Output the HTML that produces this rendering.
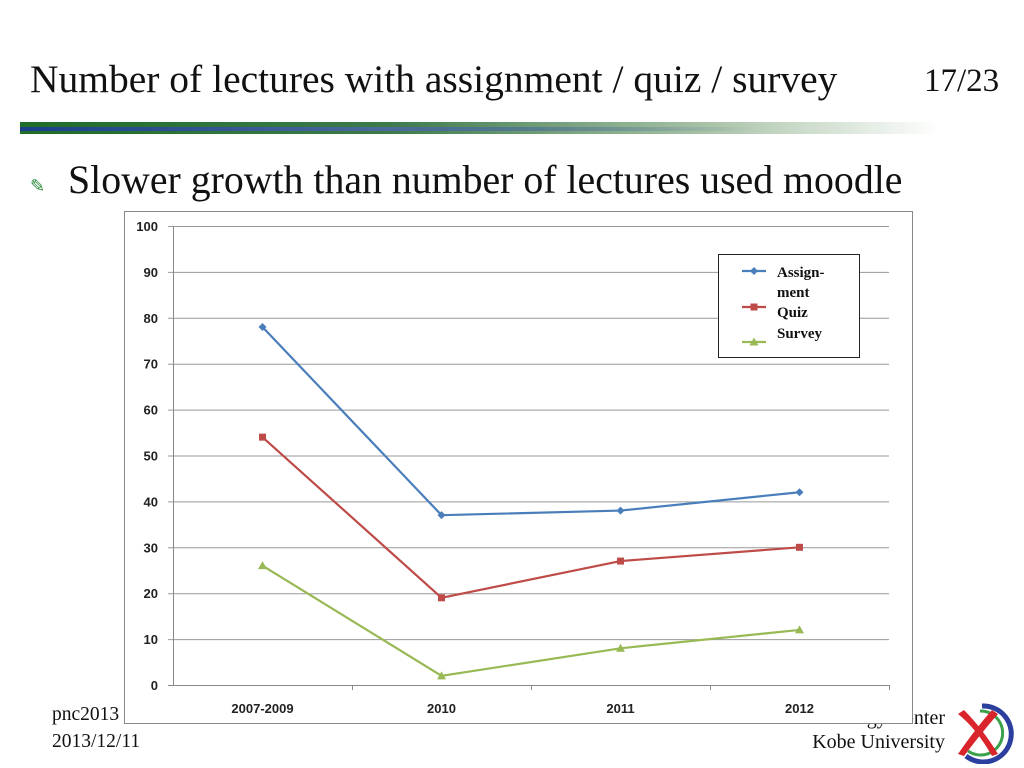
<!DOCTYPE html>
<html><head><meta charset="utf-8"><style>
body{margin:0;width:1024px;height:768px;background:#fff;position:relative;overflow:hidden;font-family:"Liberation Serif",serif}
.t{position:absolute;white-space:nowrap}
</style></head><body>
<div class="t" style="left:30px;top:56px;font-size:39.5px;color:#111">Number of lectures with assignment / quiz / survey</div>
<div class="t" style="left:924px;top:63px;font-size:33px;color:#111">17/23</div>
<div class="t" style="left:20px;top:122px;width:920px;height:12px;background:linear-gradient(90deg,#1f6d2a 0%,#3c7a4c 40%,#a9c3a8 75%,#fff 100%)"></div>
<div class="t" style="left:20px;top:127px;width:920px;height:4px;background:linear-gradient(90deg,#1a3d8a 0%,#4a6a9a 40%,rgba(255,255,255,0) 80%)"></div>
<div class="t" style="left:30px;top:176px;font-size:18px;color:#2a8a3a">✎</div>
<div class="t" style="left:68px;top:157px;font-size:39.8px;color:#111">Slower growth than number of lectures used moodle</div>
<div class="t" style="left:52px;top:704px;font-size:19.5px;color:#111">pnc2013</div>
<div class="t" style="left:52px;top:731px;font-size:19.5px;color:#111">2013/12/11</div>
<div class="t" style="left:545px;top:707px;font-size:20px;color:#111;width:400px;text-align:right">Information Science and Technology Center</div>
<div class="t" style="left:700px;top:731px;font-size:20px;color:#111;width:245px;text-align:right">Kobe University</div>
<svg class="t" style="left:952px;top:702px" width="64" height="62">
<path d="M30 4 A28 28 0 1 1 14 54" fill="none" stroke="#2c3e9e" stroke-width="5"/>
<path d="M28 9 A22 22 0 1 1 16 49" fill="none" stroke="#3aa04a" stroke-width="3"/>
<path d="M6 12 Q24 26 40 54 L46 52 Q30 26 12 8Z" fill="#d8242a"/>
<path d="M40 8 Q24 26 6 52 L12 54 Q30 30 46 12Z" fill="#d8242a"/>
</svg>
<svg class="t" id="chart" style="left:0;top:0" width="1024" height="768"></svg>
<script>
const categories=["2007-2009","2010","2011","2012"];
const assignment=[78,37,38,42];
const quiz=[54,19,27,30];
const survey=[26,2,8,12];
const yTicks=[0,10,20,30,40,50,60,70,80,90,100];
const NS="http://www.w3.org/2000/svg";
const svg=document.getElementById('chart');
function mk(t,a,p){const e=document.createElementNS(NS,t);for(const k in a)e.setAttribute(k,a[k]);(p||svg).appendChild(e);return e;}
const X0=173,X1=889,Y0=685,Y1=226;
const band=(X1-X0)/categories.length;
const x=i=>X0+band*(i+0.5);
const y=v=>Y0-(v/100)*(Y0-Y1);
const frame=mk('rect',{x:124.5,y:211.5,width:788,height:512,fill:'#fff',stroke:'#888'});


yTicks.forEach(v=>{
 const g=mk('line',{x1:X0-5,x2:X1,y1:y(v)+.5,y2:y(v)+.5,stroke:v===0?'#888':'#999'});
 
 
 const t=mk('text',{x:158,y:y(v)+5,'text-anchor':'end','font-family':'Liberation Sans,sans-serif','font-size':13,'font-weight':'bold',fill:'#222'});
 t.textContent=v;
 
 
});
mk('line',{x1:X0+.5,x2:X0+.5,y1:Y1,y2:Y0,stroke:'#888'});
categories.forEach((c,i)=>{
 mk('line',{x1:X0+band*(i+1)+.5,x2:X0+band*(i+1)+.5,y1:Y0,y2:Y0+5,stroke:'#888'});
 const t=mk('text',{x:x(i),y:713,'text-anchor':'middle','font-family':'Liberation Sans,sans-serif','font-size':13,'font-weight':'bold',fill:'#222'});
 t.textContent=c;
 
 
});
function marker(shape,cx,cy,col,p){
 if(shape==='d')return mk('path',{d:`M${cx} ${cy-4}L${cx+4} ${cy}L${cx} ${cy+4}L${cx-4} ${cy}Z`,fill:col},p);
 if(shape==='s')return mk('rect',{x:cx-3.5,y:cy-3.5,width:7,height:7,fill:col},p);
 return mk('path',{d:`M${cx} ${cy-4.5}L${cx+4.5} ${cy+3.5}L${cx-4.5} ${cy+3.5}Z`,fill:col},p);
}
const series=[[assignment,'#4a7ebb','d','series-assignment'],[quiz,'#be4b48','s','series-quiz'],[survey,'#98b954','t','series-survey']];
series.forEach(([d,col,sh,nm])=>{
 const g=mk('g',{});
 
 
 mk('polyline',{points:d.map((v,i)=>x(i)+','+y(v)).join(' '),fill:'none',stroke:col,'stroke-width':2.2},g);
 d.forEach((v,i)=>{const m=marker(sh,x(i),y(v),col,g);
  
  });
});
const lg=mk('g',{});


mk('rect',{x:718.5,y:254.5,width:141,height:103,fill:'#fff',stroke:'#222'},lg);
const lyLine=[271,307,342];
const names=[["Assign-","ment"],["Quiz"],["Survey"]];
const ly=[[277,297],[317],[338]];
series.forEach(([d,col,sh],k)=>{
 mk('line',{x1:742,x2:766,y1:lyLine[k],y2:lyLine[k],stroke:col,'stroke-width':2.2},lg);
 marker(sh,754,lyLine[k],col,lg);
 names[k].forEach((s,j)=>{const t=mk('text',{x:777,y:ly[k][j],'font-family':'Liberation Serif,serif','font-size':15,'font-weight':'bold',fill:'#111'},lg);t.textContent=s;
  
  });
});
</script>
</body></html>
